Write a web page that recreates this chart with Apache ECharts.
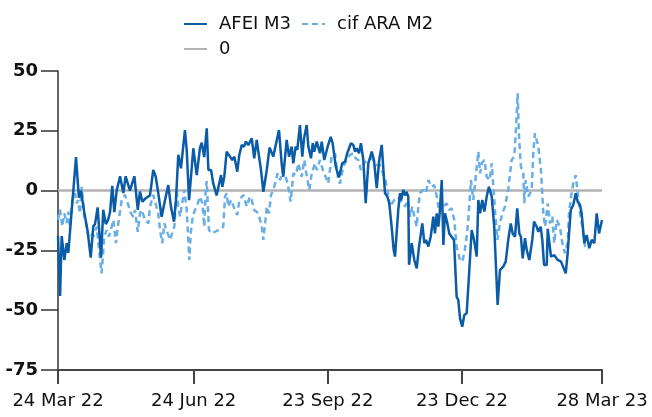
<!DOCTYPE html>
<html>
<head>
<meta charset="utf-8">
<script src="https://cdn.jsdelivr.net/npm/echarts@6/dist/echarts.min.js"></script>
<style>
  html, body { margin: 0; padding: 0; background: #fff; }
  #spread-chart { width: 652px; height: 417px; }
</style>
</head>
<body>
<div id="spread-chart"></div>
<script>
// x values are days counted from 24 Mar 22
const tickDays = [0, 92, 183, 274, 369];
const tickLabels = ['24 Mar 22', '24 Jun 22', '23 Sep 22', '23 Dec 22', '28 Mar 23'];
const yTicks = [-75, -50, -25, 0, 25, 50];

const afeiM3 = [
  [0, -19], [1.4, -44], [2.5, -19], [4.3, -29], [5.9, -22], [7, -26], [8.8, -12], [10.4, 0],
  [12.2, 14], [14.2, -3], [15.6, 0], [17.8, -9], [20.1, -17], [22.2, -28], [23.9, -15], [25.1, -14],
  [26.9, -7], [29.2, -28], [30.7, -8], [32.4, -14], [34.1, -12], [35.3, -9], [36.8, 2], [38.2, -9],
  [39.8, 0], [42.1, 6], [44.3, -1], [45.9, 6], [48.8, 0], [51.8, 6], [54.1, -8], [55.6, -0.4],
  [57.2, -4.6], [59.5, -3.2], [60.8, -4], [62.4, -2], [64.6, 8.6], [66.3, 5.8], [68, -1], [70.3, -11],
  [71.9, -6], [73, -5.3], [74.8, 2.3], [76.6, -6.7], [78.7, -13], [80, -4], [81.6, 15], [83.4, 9.3],
  [84.3, 8.6], [86.1, 25.3], [87.3, 17], [88.9, -4], [91.8, 17.7], [94.1, 6.5], [96.3, 17.8], [97.5, 20],
  [99.2, 14], [100.9, 26], [102, 8.6], [103.8, 8.6], [105.3, 3], [107.6, -2], [110.6, 6.5], [111.5, 1.6],
  [112.8, 5.8], [114.4, 16.3], [116.7, 14.2], [118.2, 12.8], [119.6, 14.2], [121.6, 7.9], [123, 15], [124.6, 19],
  [126.2, 18.4], [127.5, 20.5], [129.1, 19], [131.4, 21.9], [133.1, 13.5], [134.8, 21.2], [135.9, 16.3], [137.7, 8.6],
  [139.3, -0.5], [141.6, 8.6], [143.5, 18], [146, 14.2], [149.9, 25.3], [151.7, 11.4], [152.8, 5.8], [155.1, 21.2],
  [156.7, 14.2], [158.5, 18.4], [159.6, 11.4], [161.2, 18.4], [162.3, 17], [164.1, 27.4], [165.7, 14.2], [166.9, 21.9],
  [168.7, 27.4], [169.8, 18.4], [171.6, 13.5], [172.8, 19.8], [173.8, 16.3], [175.5, 20.5], [177.7, 15.6], [178.9, 20.5],
  [180.6, 12.8], [182.9, 18.4], [185, 22.5], [186.3, 19.8], [188.4, 10], [190.6, 5.5], [192.8, 11.4], [194.7, 12.1],
  [196.2, 15.6], [197.4, 14.9], [198.7, 19.8], [200.3, 19.1], [201.5, 16.3], [202.6, 17.7], [204.2, 15.6], [205.5, 19.8],
  [207.1, 12.8], [208.7, -5.3], [210.5, 11.4], [212.8, 16.3], [214.3, 12.8], [216.2, 1], [217.9, 12.8], [219.6, 19.1],
  [220.7, 18.4], [221.8, -1.1], [223.4, -2.5], [224.7, -5.3], [226.3, -15.1], [227.7, -24.8], [228.6, -27.6], [229.7, -17.9],
  [230.8, -8.1], [232, -1.1], [232.7, -4], [234.2, 0.3], [235.4, -2], [236.5, -0.5], [237.6, -2.5], [238.1, -31],
  [239.9, -22], [241.7, -29], [243.3, -32.5], [244.9, -23.4], [247.1, -13.7], [248.5, -22], [249.6, -20.6], [251.2, -23.4],
  [252.8, -19.3], [254.6, -10.9], [255.7, -17.9], [256.9, -9.5], [258, -15.1], [258.9, -9.5], [260.3, 4.4], [261.4, -22.7],
  [262.5, -9.5], [264.1, -13.7], [265.4, -17.9], [267, -19.3], [268.6, -20.6], [270.4, -44.4], [271.5, -45.7], [272.7, -53.4],
  [274.2, -56.9], [275.6, -52], [277.2, -51.3], [279, -33.2], [280.6, -16.5], [282.2, -20.6], [284, -27.6], [285.1, -3.9],
  [286.3, -9.5], [287.8, -3.9], [289.2, -8.8], [290.8, -2.5], [292.3, 1.6], [294.2, -2.5], [295.9, -15.1], [298.2, -47.8],
  [299.8, -33.2], [302, -31.8], [303.7, -29.7], [305.4, -20.6], [307.1, -13.7], [308.4, -17.9], [310, -19.3], [311.5, -7.4],
  [312.9, -17.9], [314, -19.3], [315.2, -28.3], [316.8, -19.9], [317.9, -24.8], [319.7, -29], [321.7, -20.6], [322.9, -13],
  [324.7, -15.1], [325.8, -17.2], [327.4, -15.1], [328.5, -20.6], [329.7, -31.1], [331.5, -31.1], [332.2, -16], [334.4, -27.6],
  [336.6, -27], [339, -29], [341.2, -29.7], [344.4, -34.6], [345.7, -26.2], [347.8, -8.1], [349.5, -6], [351.2, -1.1],
  [352.5, -4.6], [354.1, -6], [355.2, -9.5], [357, -22], [358.6, -18.6], [360.4, -24.1], [362, -20.6], [363.8, -22],
  [365.4, -9.5], [367, -17.9], [369, -12.3]
];

const cifAraM2 = [
  [0, -12.3], [1.4, -8], [2.9, -15], [4.3, -9.5], [5.9, -13.6], [7, -8.8], [8.1, -15], [9.7, -3.9],
  [11.5, -1.1], [12.7, -5.3], [13.6, -4], [14.9, -9.5], [16.1, 1.6], [17.8, -10.9], [19, -13.6], [20.6, -19.3],
  [21.7, -17.9], [23.9, -19.3], [26.3, -15.1], [27.8, -24.8], [29.6, -34.6], [31.4, -19.3], [33, -16.5], [34.6, -19.3],
  [36.4, -15.1], [37.5, -12.3], [39.3, -22], [40.9, -13.7], [43.2, -3.9], [45.4, -1.8], [47.3, -5.3], [49.5, -9.5],
  [51.1, -11], [52.2, -8.1], [54.1, -17.2], [55.6, -9.5], [56.8, -8.1], [59, -12.3], [61.3, -13.7], [62.4, -6.7],
  [64.6, -1.8], [65.8, -2.5], [68, -9.5], [69.2, -16.5], [70.7, -22], [72.1, -13.7], [74.4, -17.9], [76, -20.6],
  [78.9, -15.1], [80.5, 0.3], [81.6, -6.7], [82.8, -10.9], [85.7, 0.3], [87.3, -8.1], [89.1, -29], [90, -17.9],
  [91.4, -10.9], [92.9, -8.1], [94.1, -6.7], [96.3, -2.5], [97.9, -5.3], [99.2, -15.1], [100.2, 0.3], [100.9, 4],
  [102.4, -16.5], [104.3, -17.9], [106.5, -17.2], [108.7, -16.5], [112.1, -15.1], [113.3, -2.5], [114.4, -1.1], [115.5, -6.7],
  [117.4, -3.9], [119.6, -7.4], [121.6, -10.2], [123, -3.9], [125.7, -1.8], [128, -6.7], [130.2, -2.5], [131.4, -3.9],
  [133.1, -8.1], [135.9, -9.5], [138.2, -15.1], [139.3, -20.6], [140.5, -13.7], [141.6, -6.7], [143.1, -9.5], [144.5, -1.8],
  [146.7, 1.6], [149, 7.2], [150.6, 4.4], [152.8, 8.6], [155.8, 3], [157.8, -4.6], [159.6, 7.2], [161.4, 6.5],
  [163, 11.4], [165.3, 5.8], [167.1, 12.8], [168, 8.6], [170.5, 0.3], [172.1, 7.2], [174.3, 11.4], [175.5, 8.6],
  [177.7, 12.8], [179.7, 8.6], [183.3, 3], [185.6, 14.2], [187.9, 15.6], [190.1, 4.4], [191.3, 3], [193.5, 10],
  [195.8, 12.8], [198, 14.9], [200.3, 15.6], [201.9, 13.5], [203.7, 12.8], [205.5, 8.6], [207.6, 11.5], [210.3, 12.8],
  [213, 13.6], [215.7, 10.7], [218.4, 10.7], [222, 4.4], [223, 1.6], [225.2, -6.7], [228, -4], [230.6, -2.7],
  [233.1, -4.6], [235.4, -6.7], [237.4, -4], [238.8, -10.9], [240.3, -6.7], [241.7, -10.9], [243.3, -15.1], [244.4, -6.7],
  [245.5, -1.1], [247.8, 0.3], [249.6, -1], [251.2, 4.4], [253.4, 1.6], [255.2, 2.3], [256.9, -2.5], [258.4, -8.1],
  [260.3, -5.3], [261.4, -6.7], [263.6, -5.3], [265.4, -8.1], [267, -7.4], [268.8, -12.3], [270.4, -23.4], [272.7, -29],
  [274.2, -29.7], [275.6, -26.2], [277.2, -19.3], [278.3, -12.3], [280.1, 4.4], [281.7, -3.9], [282.9, 3], [285.1, 16.3],
  [286.3, 7.2], [287.6, 11.5], [289.2, 12.8], [290.8, 5.8], [292.8, 4.4], [294.2, 11.4], [296.4, -8.1], [298, -20.6],
  [299.8, -13.7], [301.4, -9.5], [303.2, -6.7], [305.4, 0.3], [307.7, 12.8], [309.5, 14.2], [310.6, 25.3], [311.8, 40.7],
  [312.7, 22.5], [314, 10], [315.6, 7.2], [316.3, -5.3], [317.2, 4.4], [319, -2.5], [321.3, 0.3], [322.4, 15.6],
  [323.5, 24], [325.8, 18.4], [327.6, 8.6], [329.2, -9.5], [330.4, -15.1], [332.2, -5.3], [333.7, -13.7], [335.3, -10.9],
  [336.6, -22], [338.3, -12.3], [340.5, -15.1], [342.1, -22], [343.9, -26.2], [345.7, -22], [346.6, -9.5], [348, -2.5],
  [349.5, 3], [351.2, 6.5], [352.3, 0.3], [354.1, -9.5], [355.6, -15.1], [357.5, -23.4], [359.3, -24.8]
];

const zeroLine = [[0, 0], [369, 0]];

const chart = echarts.init(document.getElementById('spread-chart'));
const font = 'DejaVu Sans';
const legendText = { fontFamily: font, fontSize: 18, color: '#111', padding: [0, 0, 0, 7] };

chart.setOption({
  animation: false,
  textStyle: { fontFamily: font },
  legend: [
    {
      data: ['AFEI M3', 'cif ARA M2'],
      left: 178, top: 10,
      itemWidth: 23, itemHeight: 10, itemGap: 10,
      itemStyle: { opacity: 0 },
      textStyle: legendText
    },
    {
      data: ['0'],
      left: 178, top: 35,
      itemWidth: 23, itemHeight: 10,
      itemStyle: { opacity: 0 },
      textStyle: legendText
    }
  ],
  grid: { left: 58, right: 50, top: 71, bottom: 47 },
  xAxis: {
    type: 'value',
    min: 0, max: 369,
    axisLine: { onZero: false, lineStyle: { color: '#444', width: 2 } },
    axisTick: { customValues: tickDays, length: 14, lineStyle: { color: '#444', width: 2 } },
    axisLabel: {
      customValues: tickDays,
      margin: 22,
      fontFamily: font, fontSize: 18, color: '#111',
      formatter: v => tickLabels[tickDays.indexOf(v)] || ''
    },
    splitLine: { show: false }
  },
  yAxis: {
    type: 'value',
    min: yTicks[0], max: yTicks[yTicks.length - 1], interval: 25,
    axisLine: { show: true, onZero: false, lineStyle: { color: '#333', width: 1.5 } },
    axisTick: { show: true, length: 17, lineStyle: { color: '#333', width: 1.5 } },
    axisLabel: { margin: 20, fontFamily: font, fontSize: 18, fontWeight: 'bold', color: '#111' },
    splitLine: { show: false }
  },
  series: [
    {
      name: '0', type: 'line', data: zeroLine, symbol: 'none', z: 1,
      lineStyle: { color: '#b3b3b3', width: 2.5 }, itemStyle: { color: '#b3b3b3' }
    },
    {
      name: 'cif ARA M2', type: 'line', data: cifAraM2, symbol: 'none', z: 2,
      lineStyle: { color: '#6aaee6', width: 2.5, type: [6, 4] }, itemStyle: { color: '#6aaee6' }
    },
    {
      name: 'AFEI M3', type: 'line', data: afeiM3, symbol: 'none', z: 3,
      lineStyle: { color: '#0a5ba8', width: 2.5 }, itemStyle: { color: '#0a5ba8' }
    }
  ]
});
</script>
</body>
</html>
